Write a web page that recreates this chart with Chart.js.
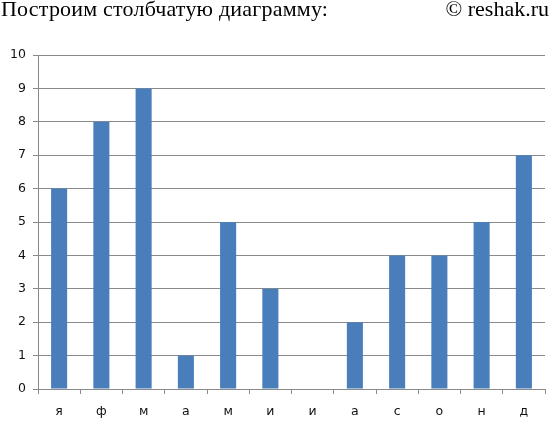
<!DOCTYPE html>
<html>
<head>
<meta charset="utf-8">
<script src="https://cdn.jsdelivr.net/npm/chart.js@4"></script>
<style>
  html, body { margin: 0; padding: 0; background: #fff; }
  #wrap { position: relative; width: 552px; height: 425px; }
  .head { position: absolute; top: -4px; font-family: "Liberation Serif", serif; font-size: 22px; color: #000; white-space: nowrap; }
  #left { left: 1px; letter-spacing: 0.2px; }
  #right { right: 3px; }
  canvas { position: absolute; left: 0; top: 0; }
</style>
</head>
<body>
<div id="wrap">
  <canvas id="chart" width="552" height="425"></canvas>
  <div class="head" id="left">Построим столбчатую диаграмму:</div>
  <div class="head" id="right">© reshak.ru</div>
</div>
<script>
// ===== DATA =====
const months = ['я', 'ф', 'м', 'а', 'м', 'и', 'и', 'а', 'с', 'о', 'н', 'д'];
const values = [6, 8, 9, 1, 5, 3, 0, 2, 4, 4, 5, 7];
const yTicks = [0, 1, 2, 3, 4, 5, 6, 7, 8, 9, 10];

const gridColor = '#8a8a8a';
const tickFont = { family: "'DejaVu Sans', sans-serif", size: 12.5 };

new Chart(document.getElementById('chart'), {
  type: 'bar',
  data: {
    labels: months,
    datasets: [{
      data: values,
      backgroundColor: '#4a7ebb',
      borderWidth: 0,
      barPercentage: 0.38,
      categoryPercentage: 1
    }]
  },
  options: {
    responsive: false,
    animation: false,
    layout: { padding: { top: 55, right: 7, bottom: 0, left: 0 } },
    plugins: { legend: { display: false }, tooltip: { enabled: false } },
    scales: {
      y: {
        min: 0,
        max: 10,
        afterFit: s => { s.width = 38; },
        afterBuildTicks: s => { s.ticks = yTicks.map(v => ({ value: v })); },
        grid: { color: gridColor, tickLength: 5, lineWidth: 1 },
        border: { color: gridColor },
        ticks: { color: '#111', font: tickFont, padding: 7 }
      },
      x: {
        afterFit: s => { s.height = 36; },
        grid: { display: true, drawOnChartArea: false, color: gridColor, tickLength: 5, offset: true },
        border: { color: gridColor },
        ticks: { color: '#111', font: tickFont, padding: 10 }
      }
    }
  }
});
</script>
</body>
</html>
